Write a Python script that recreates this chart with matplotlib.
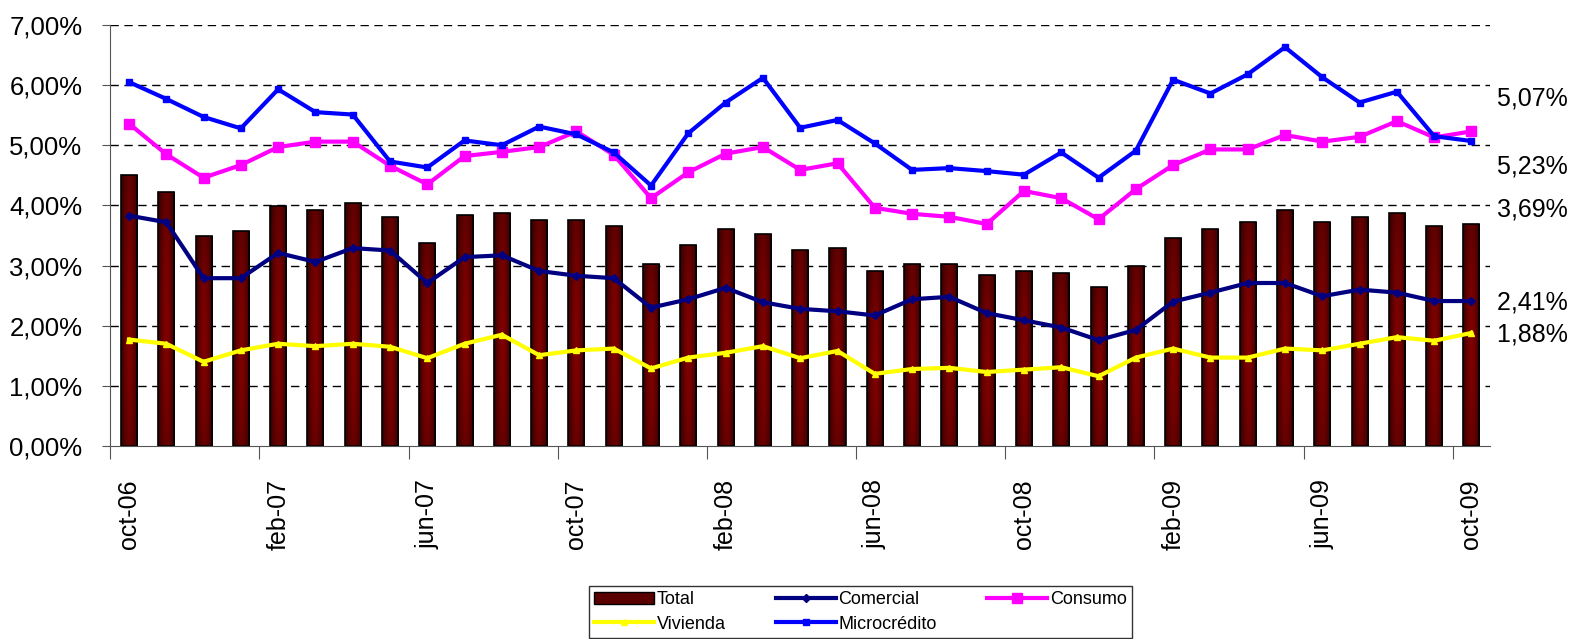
import matplotlib
matplotlib.use("Agg")
import matplotlib.pyplot as plt
import numpy as np
from matplotlib.lines import Line2D
from matplotlib.patches import Patch

plt.rcParams['font.family'] = ['Liberation Sans', 'DejaVu Sans']

months = ["oct-06", "nov-06", "dic-06", "ene-07", "feb-07", "mar-07", "abr-07", "may-07",
          "jun-07", "jul-07", "ago-07", "sep-07", "oct-07", "nov-07", "dic-07", "ene-08",
          "feb-08", "mar-08", "abr-08", "may-08", "jun-08", "jul-08", "ago-08", "sep-08",
          "oct-08", "nov-08", "dic-08", "ene-09", "feb-09", "mar-09", "abr-09", "may-09",
          "jun-09", "jul-09", "ago-09", "sep-09", "oct-09"]

total = [4.50, 4.23, 3.49, 3.57, 3.99, 3.92, 4.04, 3.80, 3.37, 3.84, 3.88, 3.76,
         3.76, 3.65, 3.03, 3.34, 3.61, 3.53, 3.26, 3.30, 2.91, 3.03, 3.03, 2.84,
         2.91, 2.87, 2.65, 2.99, 3.45, 3.61, 3.73, 3.92, 3.73, 3.80, 3.88, 3.65, 3.69]

comercial = [3.83, 3.72, 2.79, 2.79, 3.21, 3.06, 3.29, 3.25, 2.71, 3.14, 3.17, 2.91,
             2.83, 2.79, 2.30, 2.44, 2.63, 2.39, 2.28, 2.24, 2.17, 2.44, 2.48, 2.21,
             2.09, 1.97, 1.76, 1.93, 2.40, 2.55, 2.71, 2.71, 2.49, 2.60, 2.55, 2.41, 2.41]

consumo = [5.36, 4.85, 4.46, 4.67, 4.97, 5.06, 5.06, 4.66, 4.35, 4.82, 4.89, 4.97,
           5.23, 4.84, 4.12, 4.55, 4.86, 4.97, 4.59, 4.70, 3.96, 3.86, 3.81, 3.69,
           4.24, 4.12, 3.77, 4.27, 4.67, 4.93, 4.93, 5.17, 5.06, 5.14, 5.40, 5.13, 5.23]

vivienda = [1.77, 1.70, 1.40, 1.59, 1.70, 1.66, 1.70, 1.65, 1.46, 1.70, 1.85, 1.51,
            1.59, 1.62, 1.29, 1.47, 1.55, 1.66, 1.46, 1.58, 1.20, 1.28, 1.30, 1.23,
            1.27, 1.31, 1.16, 1.47, 1.62, 1.47, 1.47, 1.62, 1.59, 1.70, 1.81, 1.75, 1.88]

microcredito = [6.05, 5.77, 5.47, 5.28, 5.93, 5.55, 5.51, 4.73, 4.63, 5.08, 5.00, 5.31,
                5.18, 4.88, 4.33, 5.20, 5.71, 6.12, 5.29, 5.42, 5.03, 4.59, 4.62, 4.57,
                4.51, 4.88, 4.46, 4.91, 6.09, 5.86, 6.18, 6.63, 6.13, 5.71, 5.89, 5.15, 5.07]

end_labels = ["5,07%", "5,23%", "3,69%", "2,41%", "1,88%"]
end_label_y = [5.78, 4.64, 3.94, 2.39, 1.86]

yticks = [0, 1, 2, 3, 4, 5, 6, 7]

fig = plt.figure(figsize=(15.76, 6.39), dpi=100)
ax = fig.add_axes([0.0700, 0.302, 0.8755, 0.659])

x = np.arange(len(months))
ax.set_xlim(-0.5, len(months) - 0.5)
ax.set_ylim(0, 7)

# gridlines
for yv in yticks[1:]:
    ax.axhline(yv, color='black', lw=1.0, ls=(0, (6, 4)), zorder=1)

# gradient bars
bars = ax.bar(x, total, width=0.43, color='none', edgecolor='black', linewidth=1.2, zorder=3)
nx, ny = 64, 128
hx = np.linspace(-1, 1, nx)
vy = np.linspace(0, 1, ny)
hfac = 1 - np.abs(hx) ** 1.6
vfac = np.clip(0.45 + 0.55 * np.sin(np.pi * (0.15 + 0.75 * vy)), 0, 1)
grad = np.outer(vfac, hfac)
dark = np.array([0.19, 0.0, 0.0])
bright = np.array([0.50, 0.0, 0.0])
img = dark[None, None, :] + (bright - dark)[None, None, :] * grad[:, :, None]
for b in bars:
    bx, by = b.get_x(), b.get_y()
    w, h = b.get_width(), b.get_height()
    im = ax.imshow(img, extent=[bx, bx + w, by, by + h], origin='lower',
                   aspect='auto', zorder=2.5, interpolation='bilinear')
    im.set_clip_path(b)

lw = 3.0
ax.plot(x, comercial, color='#000080', lw=lw, marker='D', ms=4, zorder=5)
ax.plot(x, consumo, color='#FF00FF', lw=lw, marker='s', ms=7, zorder=5)
ax.plot(x, vivienda, color='#FFFF00', lw=lw, marker='^', ms=4, zorder=5)
ax.plot(x, microcredito, color='#0000FF', lw=lw, marker='s', ms=5, zorder=6)

# axes styling
for s in ['top', 'right']:
    ax.spines[s].set_visible(False)
ax.spines['left'].set_color('#555555')
ax.spines['bottom'].set_color('#555555')
ax.spines['left'].set_zorder(7)
ax.spines['bottom'].set_zorder(7)

ax.set_yticks(yticks)
ax.set_yticklabels([f"{v:.2f}%".replace('.', ',') for v in yticks], fontsize=18.5)
ax.tick_params(axis='y', length=6, color='#555555', pad=14)

ax.set_xticks(np.arange(-0.5, len(months), 4))
ax.set_xticklabels([])
ax.tick_params(axis='x', which='major', length=9, color='#555555')
lab_idx = np.arange(0, len(months), 4)
ax.set_xticks(lab_idx, minor=True)
ax.set_xticklabels([months[i] for i in lab_idx], minor=True, rotation=90, fontsize=18)
ax.tick_params(axis='x', which='minor', length=0, pad=24)

# end labels
for t, yv in zip(end_labels, end_label_y):
    ax.text(1.0, yv, " " + t, transform=ax.get_yaxis_transform(), fontsize=18,
            va='center', ha='left', clip_on=False)

handles = [
    Patch(facecolor='#5a0000', edgecolor='black', label='Total'),
    Line2D([], [], color='#FFFF00', lw=lw, marker='^', ms=4, label='Vivienda'),
    Line2D([], [], color='#000080', lw=lw, marker='D', ms=4, label='Comercial'),
    Line2D([], [], color='#0000FF', lw=lw, marker='s', ms=5, label='Microcrédito'),
    Line2D([], [], color='#FF00FF', lw=lw, marker='s', ms=7, label='Consumo'),
]
leg = fig.legend(handles=handles, ncol=3, loc='upper left',
                 bbox_to_anchor=(589 / 1576, 1 - 586 / 639), fontsize=13,
                 frameon=True, fancybox=False, edgecolor='black',
                 handlelength=3.3, handletextpad=0.15, columnspacing=2.8,
                 labelspacing=0.4, borderpad=0.3, borderaxespad=0)
leg.get_frame().set_linewidth(1.0)

fig.savefig("out.png", dpi=100)
